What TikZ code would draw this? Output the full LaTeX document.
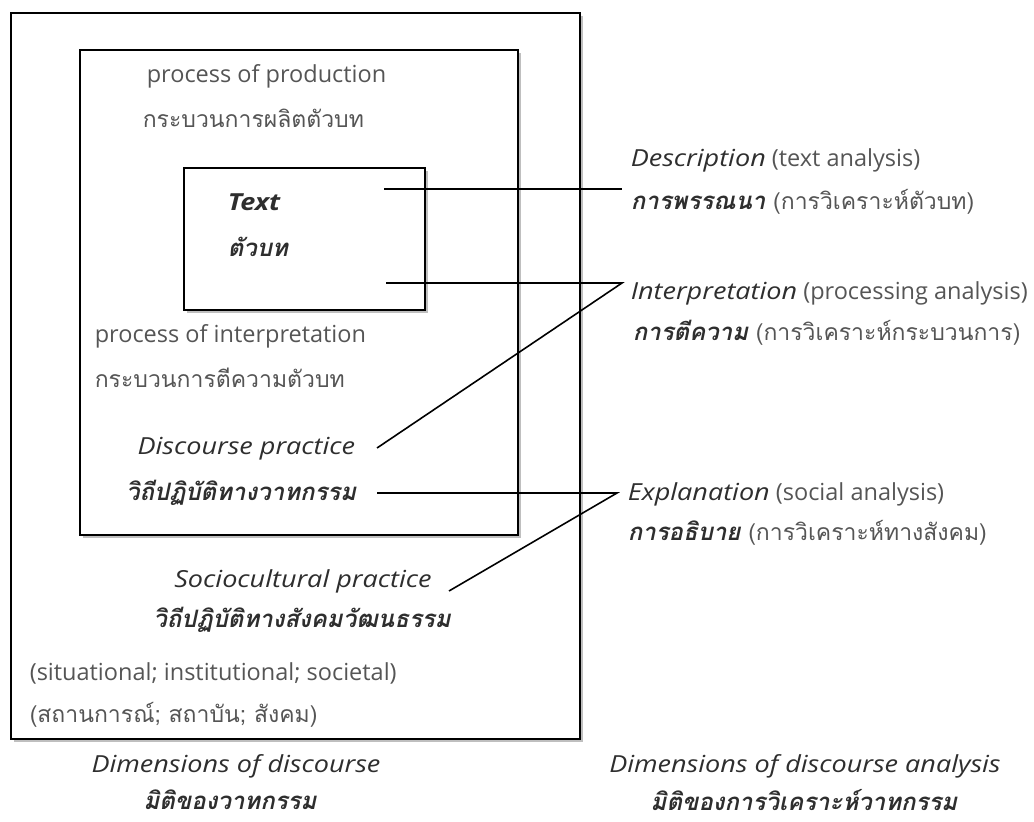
\documentclass[tikz,border=0pt]{standalone}
\usepackage{fontspec}
\setmainfont{Open Sans}
\newfontfamily\widefont[FakeStretch=1.15]{Open Sans}
\newfontfamily\thaifont[Script=Thai]{Loma}
\usetikzlibrary{shadows}
\definecolor{lblgray}{HTML}{555555}
\definecolor{lbldark}{HTML}{2E2E2E}
\newcommand{\eniword}[1]{{\widefont\itshape\color{lbldark}#1}}
\newcommand{\thbiword}[1]{{\fontsize{24}{28}\selectfont\bfseries\itshape\color{lbldark}#1}}

\begin{document}
\begin{tikzpicture}[x=1pt,y=-1pt,line width=1.6pt,
		box/.style={draw,fill=white,line width=2pt,anchor=north west,inner sep=0pt,
			drop shadow={shadow xshift=3pt,shadow yshift=-3pt,opacity=.5}},
		en/.style={inner sep=0pt,text=lblgray,font=\fontsize{23.5}{28}\selectfont},
		eni/.style={en,text=lbldark,font=\fontsize{23.5}{28}\selectfont\widefont\itshape},
		enbi/.style={en,text=lbldark,font=\fontsize{23.5}{28}\selectfont\widefont\bfseries\itshape},
		th/.style={inner sep=0pt,text=lblgray,font=\fontsize{23}{28}\selectfont\thaifont},
		thbi/.style={th,text=lbldark,font=\fontsize{24}{28}\selectfont\thaifont\bfseries\itshape}]
	\useasboundingbox (0,0) rectangle (1034,822);

	\node[box,minimum width=569pt,minimum height=726pt]      (outer)   at (10,12)   {};
	\node[box,minimum width=438pt,minimum height=485pt]      (middle)  at (79,49)   {};
	\node[box,minimum width=241pt,minimum height=142pt]      (textbox) at (183,167) {};

	\node[en,anchor=west]       (prod)      at (146,76)    {process of production};
	\node[th,anchor=west]       (prodth)    at (142,118)   {กระบวนการผลิตตัวบท};
	\node[enbi,anchor=west]     (text)      at (227,202)   {Text};
	\node[thbi,anchor=west]     (textth)    at (227,247)   {ตัวบท};
	\node[en,anchor=west]       (interp)    at (94,336)    {process of interpretation};
	\node[th,anchor=west]       (interpth)  at (94,378)    {กระบวนการตีความตัวบท};
	\node[eni,anchor=east]      (disc)      at (356,449)   {Discourse practice};
	\node[thbi,anchor=east]     (discth)    at (357,493)   {วิถีปฏิบัติทางวาทกรรม};
	\node[eni]                  (socio)     at (303,581)   {Sociocultural practice};
	\node[thbi]                 (socioth)   at (302,620)   {วิถีปฏิบัติทางสังคมวัฒนธรรม};
	\node[en,anchor=west]       (levels)    at (29,673)    {(situational; institutional; societal)};
	\node[th,anchor=west]       (levelsth)  at (29,715)    {(สถานการณ์; สถาบัน; สังคม)};
	\node[eni]                  (dimd)      at (236,766)   {Dimensions of discourse};
	\node[thbi]                 (dimdth)    at (230,800)   {มิติของวาทกรรม};

	\node[en,anchor=west]       (descr)     at (630,160)   {\eniword{Description} (text analysis)};
	\node[th,anchor=west]       (descrth)   at (630,202)   {\thbiword{การพรรณนา} (การวิเคราะห์ตัวบท)};
	\node[en,anchor=west]       (interpr)   at (630,293)   {\eniword{Interpretation} (processing analysis)};
	\node[th,anchor=west]       (interprth) at (632,333)   {\thbiword{การตีความ} (การวิเคราะห์กระบวนการ)};
	\node[en,anchor=west]       (expl)      at (627,494)   {\eniword{Explanation} (social analysis)};
	\node[th,anchor=west]       (explth)    at (627,533)   {\thbiword{การอธิบาย} (การวิเคราะห์ทางสังคม)};
	\node[eni]                  (dima)      at (805,766)   {Dimensions of discourse analysis};
	\node[thbi]                 (dimath)    at (804,800)   {มิติของการวิเคราะห์วาทกรรม};

	\coordinate (descA)  at (384,189);
	\coordinate (descB)  at (622,189);
	\coordinate (intA)   at (386,283);
	\coordinate (intB)   at (622,283);
	\coordinate (discA)  at (377,448);
	\coordinate (explA)  at (377,493);
	\coordinate (explB)  at (617,493);
	\coordinate (socioA) at (449,591);

	\draw (descA) -- (descB);
	\draw (intA) -- (intB) -- (discA);
	\draw (explA) -- (explB) -- (socioA);
\end{tikzpicture}
\end{document}
